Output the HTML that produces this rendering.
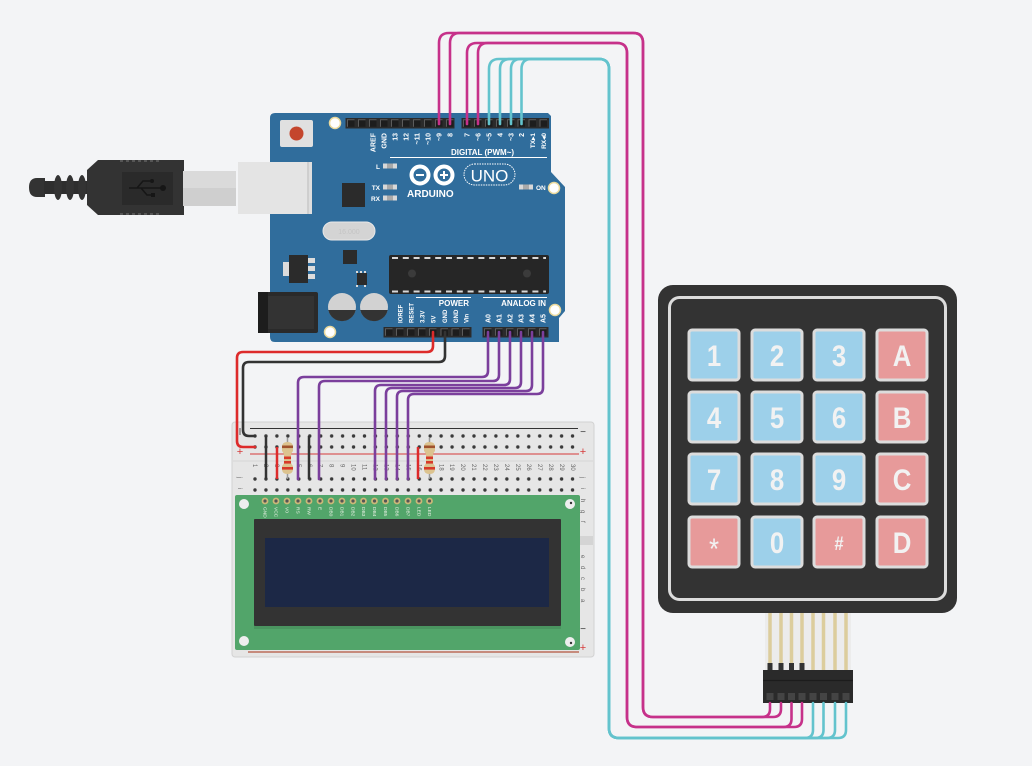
<!DOCTYPE html>
<html><head><meta charset="utf-8"><style>
html,body{margin:0;padding:0;background:#f3f4f6;overflow:hidden}
svg{display:block}
text{font-family:"Liberation Sans",sans-serif}
</style></head><body>
<svg width="1032" height="766" viewBox="0 0 1032 766" xmlns="http://www.w3.org/2000/svg">
<defs>
<g id="pin"><rect x="-3.5" y="-3.5" width="7" height="7" fill="#1d1d1d"/><path d="M-3.5 3.5V-3.5H3.5" stroke="#5c5c5c" stroke-width="1" fill="none"/></g>
<pattern id="holesA" patternUnits="userSpaceOnUse" x="249.525" y="430.5" width="10.95" height="11"><circle cx="5.475" cy="5.5" r="1.7" fill="#3a3a3a"/></pattern>
<pattern id="holesB" patternUnits="userSpaceOnUse" x="249.525" y="473.5" width="10.95" height="11"><circle cx="5.475" cy="5.5" r="1.7" fill="#3a3a3a"/></pattern>
<g id="lcdpin"><circle r="3.4" fill="#cbb878"/><circle r="1.6" fill="#555"/></g>
</defs>
<rect width="1032" height="766" fill="#f3f4f6"/>

<!-- USB cable -->
<path d="M45 178H37Q29 178 29 187.5Q29 197 37 197H45Z" fill="#333"/>
<rect x="44" y="181" width="45" height="13" fill="#2e2e2e"/>
<ellipse cx="58" cy="187.5" rx="4" ry="12.5" fill="#333"/>
<ellipse cx="70" cy="187.5" rx="4" ry="12.5" fill="#333"/>
<ellipse cx="82" cy="187.5" rx="4" ry="12.5" fill="#333"/>
<path d="M87 170L98 160H184V215H98L87 205Z" fill="#333"/>
<path d="M120 161H160M120 214H160" stroke="#555" stroke-width="2" stroke-dasharray="3 3"/>
<rect x="122" y="172" width="51" height="33" fill="#2a2a2a"/>
<g stroke="#161616" stroke-width="1.6" fill="none"><path d="M129 188H162M137 188L143 181H150M141 188L147 195H152"/></g>
<circle cx="163" cy="188" r="3" fill="#161616"/><circle cx="152" cy="181" r="2" fill="#161616"/><rect x="151" y="193" width="4" height="4" fill="#161616"/>
<rect x="183" y="171" width="53" height="35" fill="#cfcfcf"/>
<rect x="183" y="171" width="53" height="17" fill="#dadada"/>

<!-- Arduino -->
<circle cx="283" cy="163" r="8" fill="#d8d8d8"/>
<circle cx="283" cy="213" r="8" fill="#d8d8d8"/>
<path d="M270 118Q270 113 275 113H548L551 116V172L565 187V311L559 318V342H275Q270 342 270 337Z" fill="#306d9c"/>
<rect x="238" y="162" width="74" height="52" fill="#dedede"/>
<rect x="238" y="162" width="70" height="52" fill="#e4e4e4"/>
<line x1="308" y1="162" x2="308" y2="214" stroke="#c8c8c8" stroke-width="1.5"/>
<!-- power jack -->
<rect x="258" y="292" width="60" height="41" rx="2" fill="#2a2a2a"/>
<rect x="258" y="292" width="10" height="41" fill="#1d1d1d"/>
<rect x="268" y="296" width="46" height="33" fill="#333"/>
<!-- reset -->
<rect x="280" y="120" width="33" height="27" rx="2" fill="#e0e0e0"/>
<circle cx="296.5" cy="133.5" r="7" fill="#c4462d"/>
<!-- mounting holes -->
<g fill="#fff" stroke="#ead99c" stroke-width="1.5"><circle cx="335" cy="123" r="5.5"/><circle cx="554" cy="188" r="5.5"/><circle cx="330" cy="332" r="5.5"/><circle cx="555" cy="310" r="5.5"/></g>
<!-- headers -->
<rect x="345.5" y="118" width="109" height="10.5" fill="#2b2b2b"/>
<rect x="461.5" y="118" width="87.5" height="10.5" fill="#2b2b2b"/>
<rect x="383.5" y="327" width="88" height="10.5" fill="#2b2b2b"/>
<rect x="482.5" y="327" width="66" height="10.5" fill="#2b2b2b"/>
<use href="#pin" x="351" y="123.3"/><use href="#pin" x="362" y="123.3"/><use href="#pin" x="373" y="123.3"/><use href="#pin" x="384" y="123.3"/><use href="#pin" x="395" y="123.3"/><use href="#pin" x="406" y="123.3"/><use href="#pin" x="417" y="123.3"/><use href="#pin" x="428" y="123.3"/><use href="#pin" x="439" y="123.3"/><use href="#pin" x="450" y="123.3"/>
<use href="#pin" x="467" y="123.3"/><use href="#pin" x="478" y="123.3"/><use href="#pin" x="489" y="123.3"/><use href="#pin" x="500" y="123.3"/><use href="#pin" x="511" y="123.3"/><use href="#pin" x="521.5" y="123.3"/><use href="#pin" x="532.5" y="123.3"/><use href="#pin" x="543.5" y="123.3"/>
<use href="#pin" x="389" y="332.3"/><use href="#pin" x="400" y="332.3"/><use href="#pin" x="411" y="332.3"/><use href="#pin" x="422" y="332.3"/><use href="#pin" x="433" y="332.3"/><use href="#pin" x="444.5" y="332.3"/><use href="#pin" x="455.5" y="332.3"/><use href="#pin" x="466" y="332.3"/>
<use href="#pin" x="488" y="332.3"/><use href="#pin" x="499" y="332.3"/><use href="#pin" x="510" y="332.3"/><use href="#pin" x="521" y="332.3"/><use href="#pin" x="532" y="332.3"/><use href="#pin" x="543" y="332.3"/>
<!-- digital labels -->
<g fill="#fff" font-size="7" font-weight="bold" text-anchor="end">
<text transform="translate(375.5,133) rotate(-90)">AREF</text>
<text transform="translate(386.5,133) rotate(-90)">GND</text>
<text transform="translate(397.5,133) rotate(-90)">13</text>
<text transform="translate(408.5,133) rotate(-90)">12</text>
<text transform="translate(419.5,133) rotate(-90)">~11</text>
<text transform="translate(430.5,133) rotate(-90)">~10</text>
<text transform="translate(441.5,133) rotate(-90)">~9</text>
<text transform="translate(452.5,133) rotate(-90)">8</text>
<text transform="translate(469.5,133) rotate(-90)">7</text>
<text transform="translate(480.5,133) rotate(-90)">~6</text>
<text transform="translate(491.5,133) rotate(-90)">~5</text>
<text transform="translate(502.5,133) rotate(-90)">4</text>
<text transform="translate(513.5,133) rotate(-90)">~3</text>
<text transform="translate(524,133) rotate(-90)">2</text>
<text transform="translate(535,133) rotate(-90)" font-size="6.5">TX▸1</text>
<text transform="translate(546,133) rotate(-90)" font-size="6.5">RX◂0</text>
</g>
<text x="451" y="155" fill="#fff" font-size="8" font-weight="bold">DIGITAL (PWM~)</text>
<line x1="390" y1="157.5" x2="547" y2="157.5" stroke="#fff" stroke-width="1"/>
<!-- LEDs -->
<text x="380" y="169" fill="#fff" font-size="6.5" font-weight="bold" text-anchor="end">L</text>
<text x="380" y="190" fill="#fff" font-size="6.5" font-weight="bold" text-anchor="end">TX</text>
<text x="380" y="201" fill="#fff" font-size="6.5" font-weight="bold" text-anchor="end">RX</text>
<text x="536" y="190" fill="#fff" font-size="6.5" font-weight="bold">ON</text>
<g fill="#d8d8d8"><rect x="383" y="163.5" width="14" height="5"/><rect x="383" y="184.5" width="14" height="5"/><rect x="383" y="195.5" width="14" height="5"/><rect x="519" y="184.5" width="14" height="5"/></g>
<g fill="#a9a9a9"><rect x="387" y="163.5" width="6" height="5"/><rect x="387" y="184.5" width="6" height="5"/><rect x="387" y="195.5" width="6" height="5"/><rect x="523" y="184.5" width="6" height="5"/></g>
<!-- logo -->
<circle cx="420" cy="175" r="8.5" fill="none" stroke="#fff" stroke-width="4"/>
<circle cx="444" cy="175" r="8.5" fill="none" stroke="#fff" stroke-width="4"/>
<path d="M416 175H424M440 175H448M444 171V179" stroke="#fff" stroke-width="2"/>
<text x="407" y="197" fill="#fff" font-size="10" font-weight="bold">ARDUINO</text>
<rect x="464" y="164" width="51" height="21" rx="10.5" fill="none" stroke="#fff" stroke-width="1" stroke-dasharray="1.5 1"/>
<text x="489.5" y="181.5" fill="#fff" font-size="17" text-anchor="middle">UNO</text>
<!-- chips -->
<rect x="342" y="183" width="23" height="24" fill="#2b2b2b"/>
<rect x="323" y="222" width="52" height="18" rx="9" fill="#d4d4d4" stroke="#e8e8e8" stroke-width="1"/>
<text x="349" y="234" fill="#c4c4c4" font-size="7" text-anchor="middle">16.000</text>
<rect x="343" y="250" width="14" height="14" fill="#2b2b2b"/>
<rect x="283" y="262" width="7" height="14" fill="#dcdcdc"/>
<rect x="289" y="255" width="19" height="28" fill="#2b2b2b"/>
<g fill="#dcdcdc"><rect x="308" y="258" width="7" height="5"/><rect x="308" y="266" width="7" height="5"/><rect x="308" y="274" width="7" height="5"/></g>
<rect x="357" y="273" width="10" height="12" fill="#2b2b2b"/>
<g fill="#dcdcdc"><rect x="356" y="271" width="2" height="2"/><rect x="360" y="271" width="2" height="2"/><rect x="364" y="271" width="2" height="2"/><rect x="356" y="285" width="2" height="2"/><rect x="364" y="285" width="2" height="2"/></g>
<rect x="389" y="255" width="160" height="39" rx="2" fill="#262626"/>
<path d="M392 258H546M392 291.5H546" stroke="#d8d8d8" stroke-width="2" stroke-dasharray="6 4.8"/>
<circle cx="412" cy="273.5" r="4" fill="#3b3b3b"/>
<circle cx="527" cy="273.5" r="4" fill="#3b3b3b"/>
<!-- caps -->
<circle cx="342" cy="307" r="14" fill="#d2d2d2"/><path d="M328.3 310H355.7A14 14 0 0 1 328.3 310Z" fill="#333"/>
<circle cx="374" cy="307" r="14" fill="#d2d2d2"/><path d="M360.3 310H387.7A14 14 0 0 1 360.3 310Z" fill="#333"/>
<!-- power / analog labels -->
<text x="469" y="306" fill="#fff" font-size="8" font-weight="bold" text-anchor="end">POWER</text>
<text x="546" y="306" fill="#fff" font-size="8" font-weight="bold" text-anchor="end">ANALOG IN</text>
<line x1="416" y1="297.5" x2="471" y2="297.5" stroke="#fff" stroke-width="1"/>
<line x1="483" y1="297.5" x2="547" y2="297.5" stroke="#fff" stroke-width="1"/>
<g fill="#fff" font-size="6" font-weight="bold">
<text transform="translate(402.5,323) rotate(-90)">IOREF</text>
<text transform="translate(413.5,323) rotate(-90)">RESET</text>
<text transform="translate(424.5,323) rotate(-90)">3.3V</text>
<text transform="translate(435.5,323) rotate(-90)">5V</text>
<text transform="translate(447,323) rotate(-90)">GND</text>
<text transform="translate(458,323) rotate(-90)">GND</text>
<text transform="translate(468.5,323) rotate(-90)">Vin</text>
</g>
<g fill="#fff" font-size="7" font-weight="bold">
<text transform="translate(490.5,323) rotate(-90)">A0</text>
<text transform="translate(501.5,323) rotate(-90)">A1</text>
<text transform="translate(512.5,323) rotate(-90)">A2</text>
<text transform="translate(523.5,323) rotate(-90)">A3</text>
<text transform="translate(534.5,323) rotate(-90)">A4</text>
<text transform="translate(545.5,323) rotate(-90)">A5</text>
</g>

<!-- Breadboard -->
<rect x="232" y="422" width="362" height="235" rx="3" fill="#e6e6e6" stroke="#d2d2d2" stroke-width="1"/>
<line x1="233" y1="461" x2="593" y2="461" stroke="#d6d6d6" stroke-width="1"/>
<rect x="580" y="536" width="13" height="9" fill="#d4d4d4"/>
<line x1="250" y1="428.5" x2="578" y2="428.5" stroke="#333" stroke-width="1"/>
<line x1="250" y1="454" x2="579" y2="454" stroke="#d63a3a" stroke-width="1"/>
<line x1="248" y1="652" x2="579" y2="652" stroke="#b4553f" stroke-width="1.3"/>
<rect x="249.5" y="430.5" width="328.5" height="22" fill="url(#holesA)"/>
<rect x="249.5" y="473.5" width="328.5" height="22" fill="url(#holesB)"/>
<text x="240" y="455" fill="#d63a3a" font-size="11" text-anchor="middle">+</text>
<text x="583" y="455" fill="#d63a3a" font-size="11" text-anchor="middle">+</text>
<text x="583" y="651" fill="#d63a3a" font-size="11" text-anchor="middle">+</text>
<text x="583" y="435" fill="#333" font-size="10" text-anchor="middle">−</text>
<text x="583" y="632" fill="#333" font-size="10" text-anchor="middle">−</text>
<line x1="240" y1="428" x2="240" y2="435" stroke="#555" stroke-width="1"/>
<g fill="#666" font-size="6">
<text transform="translate(238,477) rotate(90)">j</text><text transform="translate(238,488) rotate(90)">i</text>
<text transform="translate(581,477) rotate(90)">j</text><text transform="translate(581,488) rotate(90)">i</text>
<text transform="translate(581,499) rotate(90)">h</text><text transform="translate(581,510) rotate(90)">g</text>
<text transform="translate(581,521) rotate(90)">f</text><text transform="translate(581,555) rotate(90)">e</text>
<text transform="translate(581,566) rotate(90)">d</text><text transform="translate(581,577) rotate(90)">c</text>
<text transform="translate(581,588) rotate(90)">b</text><text transform="translate(581,599) rotate(90)">a</text>
</g>
<g fill="#666" font-size="6">
<text transform="translate(253,464) rotate(90)">1</text><text transform="translate(264,464) rotate(90)">2</text><text transform="translate(275,464) rotate(90)">3</text><text transform="translate(286,464) rotate(90)">4</text><text transform="translate(297,464) rotate(90)">5</text><text transform="translate(308,464) rotate(90)">6</text><text transform="translate(318.5,464) rotate(90)">7</text><text transform="translate(329.5,464) rotate(90)">8</text><text transform="translate(340.5,464) rotate(90)">9</text><text transform="translate(351.5,464) rotate(90)">10</text><text transform="translate(362.5,464) rotate(90)">11</text><text transform="translate(373.5,464) rotate(90)">12</text><text transform="translate(384.5,464) rotate(90)">13</text><text transform="translate(395.5,464) rotate(90)">14</text><text transform="translate(406.5,464) rotate(90)">15</text><text transform="translate(417.5,464) rotate(90)">16</text><text transform="translate(428.5,464) rotate(90)">17</text><text transform="translate(439.5,464) rotate(90)">18</text><text transform="translate(450,464) rotate(90)">19</text><text transform="translate(461,464) rotate(90)">20</text><text transform="translate(472,464) rotate(90)">21</text><text transform="translate(483,464) rotate(90)">22</text><text transform="translate(494,464) rotate(90)">23</text><text transform="translate(505,464) rotate(90)">24</text><text transform="translate(516,464) rotate(90)">25</text><text transform="translate(527,464) rotate(90)">26</text><text transform="translate(538,464) rotate(90)">27</text><text transform="translate(549,464) rotate(90)">28</text><text transform="translate(560,464) rotate(90)">29</text><text transform="translate(571,464) rotate(90)">30</text>
</g>
<!-- short jumpers -->
<line x1="266" y1="436" x2="266" y2="479" stroke="#333" stroke-width="2.5"/>
<line x1="309" y1="436" x2="309" y2="479" stroke="#333" stroke-width="2.5"/>
<line x1="277" y1="447" x2="277" y2="479" stroke="#dd2b2b" stroke-width="2.5"/>
<line x1="418" y1="447" x2="418" y2="479" stroke="#dd2b2b" stroke-width="2.5"/>
<!-- resistors -->
<g>
<line x1="287.5" y1="438" x2="287.5" y2="479" stroke="#9a9a9a" stroke-width="1.5"/>
<path d="M282 447Q282 442 287.5 442Q293 442 293 447V451Q291 453 291 456V462Q291 464 293 466V469Q293 474 287.5 474Q282 474 282 469V466Q284 464 284 462V456Q284 453 282 451Z" fill="#dcc38f"/>
<rect x="282" y="445.5" width="11" height="2.6" fill="#a0522d"/>
<rect x="284" y="456.5" width="7" height="2.6" fill="#d73a2a"/>
<rect x="284" y="461" width="7" height="2.6" fill="#d73a2a"/>
<rect x="282" y="467" width="11" height="2.6" fill="#d73a2a"/>
</g>
<g>
<line x1="429.5" y1="438" x2="429.5" y2="479" stroke="#9a9a9a" stroke-width="1.5"/>
<path d="M424 447Q424 442 429.5 442Q435 442 435 447V451Q433 453 433 456V462Q433 464 435 466V469Q435 474 429.5 474Q424 474 424 469V466Q426 464 426 462V456Q426 453 424 451Z" fill="#dcc38f"/>
<rect x="424" y="445.5" width="11" height="2.6" fill="#a0522d"/>
<rect x="426" y="456.5" width="7" height="2.6" fill="#d73a2a"/>
<rect x="426" y="461" width="7" height="2.6" fill="#d73a2a"/>
<rect x="424" y="467" width="11" height="2.6" fill="#d73a2a"/>
</g>

<!-- LCD -->
<rect x="235" y="495" width="345" height="155" rx="2" fill="#52a56a"/>
<rect x="254" y="519" width="307" height="110" fill="#4a9560"/>
<rect x="254" y="519" width="307" height="107" rx="1" fill="#333"/>
<rect x="265" y="538" width="284" height="69" fill="#1c2846"/>
<g fill="#eee"><circle cx="244" cy="504" r="5"/><circle cx="570" cy="504" r="5"/><circle cx="244" cy="641" r="5"/><circle cx="570" cy="642" r="5"/></g>
<circle cx="571" cy="503" r="1.2" fill="#333"/><circle cx="571" cy="643" r="1.2" fill="#333"/>
<use href="#lcdpin" x="265" y="501"/><use href="#lcdpin" x="276" y="501"/><use href="#lcdpin" x="287" y="501"/><use href="#lcdpin" x="298" y="501"/><use href="#lcdpin" x="309" y="501"/><use href="#lcdpin" x="320" y="501"/><use href="#lcdpin" x="331" y="501"/><use href="#lcdpin" x="342" y="501"/><use href="#lcdpin" x="353" y="501"/><use href="#lcdpin" x="363.5" y="501"/><use href="#lcdpin" x="374.5" y="501"/><use href="#lcdpin" x="385.5" y="501"/><use href="#lcdpin" x="397" y="501"/><use href="#lcdpin" x="408" y="501"/><use href="#lcdpin" x="419" y="501"/><use href="#lcdpin" x="429.5" y="501"/>
<g fill="#e6efe2" font-size="4.8">
<text transform="translate(263.5,507) rotate(90)">GND</text><text transform="translate(274.5,507) rotate(90)">VCC</text><text transform="translate(285.5,507) rotate(90)">V0</text><text transform="translate(296.5,507) rotate(90)">RS</text><text transform="translate(307.5,507) rotate(90)">RW</text><text transform="translate(318.5,507) rotate(90)">E</text><text transform="translate(329.5,507) rotate(90)">DB0</text><text transform="translate(340.5,507) rotate(90)">DB1</text><text transform="translate(351.5,507) rotate(90)">DB2</text><text transform="translate(362,507) rotate(90)">DB3</text><text transform="translate(373,507) rotate(90)">DB4</text><text transform="translate(384,507) rotate(90)">DB5</text><text transform="translate(395.5,507) rotate(90)">DB6</text><text transform="translate(406.5,507) rotate(90)">DB7</text><text transform="translate(417.5,507) rotate(90)">LED</text><text transform="translate(428,507) rotate(90)">LED</text>
</g>

<!-- wires to breadboard -->
<g fill="none" stroke-width="2.6" stroke-linecap="round">
<path d="M433 332V346Q433 352 427 352H243Q237 352 237 358V441Q237 447 243 447H255" stroke="#dd2b2b"/>
<path d="M445 332V356Q445 362 439 362H249Q243 362 243 368V430Q243 436 249 436H255" stroke="#333"/>
<g stroke="#7b3f9c">
<path d="M488 332V371Q488 377 482 377H304Q298 377 298 383V479"/>
<path d="M499 332V375Q499 381 493 381H325Q319 381 319 387V479"/>
<path d="M510 332V379Q510 385 504 385H381Q375 385 375 391V479"/>
<path d="M521 332V382Q521 388 515 388H392Q386 388 386 394V479"/>
<path d="M532 332V385Q532 391 526 391H403Q397 391 397 397V479"/>
<path d="M543 332V388Q543 394 537 394H414Q408 394 408 400V479"/>
</g>
</g>

<!-- Keypad -->
<rect x="765" y="612" width="86" height="58" fill="#ececec"/>
<g stroke="#dccd9c" stroke-width="3.5"><line x1="770" y1="612" x2="770" y2="670"/><line x1="781" y1="612" x2="781" y2="670"/><line x1="791.5" y1="612" x2="791.5" y2="670"/><line x1="802" y1="612" x2="802" y2="670"/><line x1="813" y1="612" x2="813" y2="670"/><line x1="823.5" y1="612" x2="823.5" y2="670"/><line x1="835" y1="612" x2="835" y2="670"/><line x1="846" y1="612" x2="846" y2="670"/></g>
<rect x="658" y="285" width="299" height="328" rx="15" fill="#333"/>
<rect x="669.5" y="297.5" width="276" height="302" rx="10" fill="none" stroke="#dcdcdc" stroke-width="3"/>
<g stroke="#dcdcdc" stroke-width="3">
<rect x="689" y="330" width="50" height="50" rx="3" fill="#9dd0ea"/>
<rect x="752" y="330" width="50" height="50" rx="3" fill="#9dd0ea"/>
<rect x="814" y="330" width="50" height="50" rx="3" fill="#9dd0ea"/>
<rect x="877" y="330" width="50" height="50" rx="3" fill="#e79a9a"/>
<rect x="689" y="392" width="50" height="50" rx="3" fill="#9dd0ea"/>
<rect x="752" y="392" width="50" height="50" rx="3" fill="#9dd0ea"/>
<rect x="814" y="392" width="50" height="50" rx="3" fill="#9dd0ea"/>
<rect x="877" y="392" width="50" height="50" rx="3" fill="#e79a9a"/>
<rect x="689" y="454" width="50" height="50" rx="3" fill="#9dd0ea"/>
<rect x="752" y="454" width="50" height="50" rx="3" fill="#9dd0ea"/>
<rect x="814" y="454" width="50" height="50" rx="3" fill="#9dd0ea"/>
<rect x="877" y="454" width="50" height="50" rx="3" fill="#e79a9a"/>
<rect x="689" y="517" width="50" height="50" rx="3" fill="#e79a9a"/>
<rect x="752" y="517" width="50" height="50" rx="3" fill="#9dd0ea"/>
<rect x="814" y="517" width="50" height="50" rx="3" fill="#e79a9a"/>
<rect x="877" y="517" width="50" height="50" rx="3" fill="#e79a9a"/>
</g>
<g fill="#f2f2f2" font-size="30" font-weight="bold" text-anchor="middle">
<text transform="translate(714,366) scale(0.86,1)">1</text><text transform="translate(777,366) scale(0.86,1)">2</text><text transform="translate(839,366) scale(0.86,1)">3</text><text transform="translate(902,366) scale(0.86,1)">A</text>
<text transform="translate(714,428) scale(0.86,1)">4</text><text transform="translate(777,428) scale(0.86,1)">5</text><text transform="translate(839,428) scale(0.86,1)">6</text><text transform="translate(902,428) scale(0.86,1)">B</text>
<text transform="translate(714,490) scale(0.86,1)">7</text><text transform="translate(777,490) scale(0.86,1)">8</text><text transform="translate(839,490) scale(0.86,1)">9</text><text transform="translate(902,490) scale(0.86,1)">C</text>
<text transform="translate(714,559) scale(0.86,1)" font-size="30" font-weight="normal">*</text><text transform="translate(777,553) scale(0.86,1)">0</text><text transform="translate(839,550) scale(0.86,1)" font-size="19">#</text><text transform="translate(902,553) scale(0.86,1)">D</text>
</g>
<!-- connector -->
<g fill="#333"><rect x="767.5" y="663" width="5" height="8"/><rect x="778.5" y="663" width="5" height="8"/><rect x="789" y="663" width="5" height="8"/><rect x="799.5" y="663" width="5" height="8"/></g>
<rect x="763" y="670" width="90" height="33" fill="#2a2a2a"/>
<line x1="763" y1="680.5" x2="853" y2="680.5" stroke="#1c1c1c" stroke-width="1.2"/>
<g fill="#444"><rect x="766.5" y="693" width="7" height="7"/><rect x="777.5" y="693" width="7" height="7"/><rect x="788" y="693" width="7" height="7"/><rect x="798.5" y="693" width="7" height="7"/><rect x="809.5" y="693" width="7" height="7"/><rect x="820" y="693" width="7" height="7"/><rect x="831.5" y="693" width="7" height="7"/><rect x="842.5" y="693" width="7" height="7"/></g>

<!-- long wires -->
<g fill="none" stroke-width="2.6" stroke-linecap="round">
<g stroke="#c6318a">
<path d="M439 124V43Q439 33 449 33H633Q643 33 643 43V707Q643 717 653 717H762Q770 717 770 709V703"/>
<path d="M450 124V43Q450 33 460 33H633Q643 33 643 43V707Q643 717 653 717H773Q781 717 781 709V703"/>
<path d="M467 124V53Q467 43 477 43H617Q627 43 627 53V717Q627 727 637 727H783.5Q791.5 727 791.5 719V703"/>
<path d="M478 124V53Q478 43 488 43H617Q627 43 627 53V717Q627 727 637 727H794Q802 727 802 719V703"/>
</g>
<g stroke="#63c3cd">
<path d="M489 124V69Q489 59 499 59H599Q609 59 609 69V728Q609 738 619 738H805Q813 738 813 730V703"/>
<path d="M500 124V69Q500 59 510 59H599Q609 59 609 69V728Q609 738 619 738H815.5Q823.5 738 823.5 730V703"/>
<path d="M511 124V69Q511 59 521 59H599Q609 59 609 69V728Q609 738 619 738H827Q835 738 835 730V703"/>
<path d="M521.5 124V69Q521.5 59 531.5 59H599Q609 59 609 69V728Q609 738 619 738H838Q846 738 846 730V703"/>
</g>
</g>
</svg>
</body></html>
